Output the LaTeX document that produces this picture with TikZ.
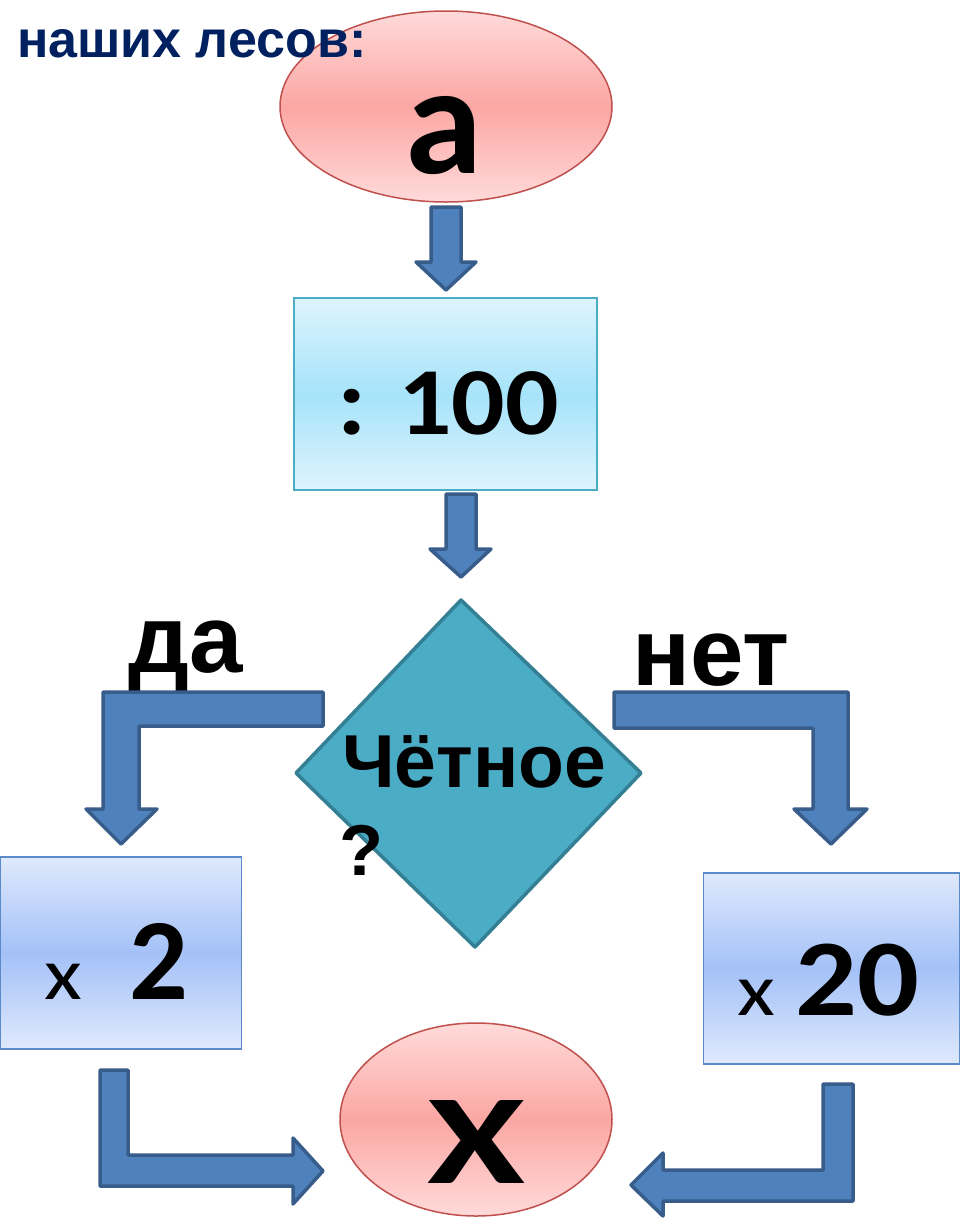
\documentclass[tikz,border=0pt]{standalone}
\usepackage{fontspec}
\setmainfont{Liberation Sans}
\newfontfamily\lsans{Liberation Sans}
\newfontfamily\calib{Carlito}
\usepackage{graphicx}
\usetikzlibrary{shapes.geometric}
\definecolor{navy}{HTML}{002060}
\definecolor{pinkL}{HTML}{FFDADA}
\definecolor{pinkM}{HTML}{FBA7A3}
\definecolor{ellline}{HTML}{C0504D}
\definecolor{cyanL}{HTML}{DEF4FD}
\definecolor{cyanM}{HTML}{A6E3FA}
\definecolor{cyanline}{HTML}{4BACC6}
\definecolor{blueL}{HTML}{DFE9FC}
\definecolor{blueM}{HTML}{A4C1F8}
\definecolor{boxline}{HTML}{5B8AC8}
\definecolor{arrfill}{HTML}{4F81BD}
\definecolor{arrline}{HTML}{385D8A}
\definecolor{diafill}{HTML}{4BACC6}
\definecolor{dialine}{HTML}{357F94}
\begin{document}
\begin{tikzpicture}[x=1pt,y=-1pt,
  blockarrow/.style={fill=arrfill, draw=arrline, line width=3.5pt, line join=round},
  txt/.style={inner sep=0pt, outer sep=0pt, anchor=base},
  pinkell/.style={ellipse, draw=ellline, line width=1.5pt, inner sep=0pt,
    top color=pinkL, bottom color=pinkL, middle color=pinkM},
  cyanbox/.style={rectangle, draw=cyanline, line width=2pt, inner sep=0pt,
    top color=cyanL, bottom color=cyanL, middle color=cyanM},
  bluebox/.style={rectangle, draw=boxline, line width=1.8pt, inner sep=0pt,
    top color=blueL, bottom color=blueL, middle color=blueM},
  diastyle/.style={fill=diafill, draw=dialine, line width=3.5pt, line join=round},
  bigcal/.style={font=\calib\bfseries\fontsize{#1}{#1}\selectfont},
  bigar/.style={font=\lsans\bfseries\fontsize{#1}{#1}\selectfont},
]
\useasboundingbox (0,0) rectangle (960,1219);
\fill[white] (0,0) rectangle (960,1219);

% top ellipse
\node[pinkell, minimum width=332pt, minimum height=191pt] (ea) at (446,106.5) {};
\node[txt, bigcal=156] (eat) at (444,173) {a};
\node[txt, anchor=base west, bigar=52, text=navy] (title) at (17,57) {наших лесов:};

% arrow 1
\draw[blockarrow] (431,207) -- (461,207) -- (461,262) -- (476,262) -- (446,290)
  -- (416,262) -- (431,262) -- cycle;

% box :100
\node[cyanbox, minimum width=303pt, minimum height=192pt] (b100) at (445.5,394) {};
\node[txt, bigcal=96] (b100t) at (448,434) {\scalebox{1.1}[1]{: 100}};

% arrow 2
\draw[blockarrow] (446,494) -- (476,494) -- (476,549) -- (491,549) -- (461,577)
  -- (430,549) -- (446,549) -- cycle;

% diamond
\coordinate (dT) at (461,600);
\coordinate (dR) at (641,773);
\coordinate (dB) at (475,947);
\coordinate (dL) at (296,773);
\draw[diastyle] (dT) -- (dR) -- (dB) -- (dL) -- cycle;
\node[txt, bigar=75] (q1) at (474,787) {Чётное};
\node[txt, bigar=72] (q2) at (361,875) {?};

% yes / no labels
\node[txt, bigar=96] (yes) at (186,672) {да};
\node[txt, bigar=96] (no) at (711,685) {нет};

% bent arrow left
\draw[blockarrow] (323,692) -- (103,692) -- (103,809) -- (86,809) -- (121,844)
  -- (157,809) -- (139,809) -- (139,726) -- (323,726) -- cycle;
% bent arrow right
\draw[blockarrow] (614,692) -- (848,692) -- (848,809) -- (867,809) -- (831,844)
  -- (794,809) -- (813,809) -- (813,728) -- (614,728) -- cycle;

% boxes x2 and x20
\node[bluebox, minimum width=241pt, minimum height=192pt] (b2) at (121,953) {};
\node[txt, anchor=base west] (b2t) at (45,999)
  {{\calib\fontsize{74}{74}\selectfont\scalebox{1.18}[1]{x}}\hspace{47pt}{\calib\bfseries\fontsize{116}{116}\selectfont 2}};
\node[bluebox, minimum width=256pt, minimum height=191pt] (b20) at (831.5,968.5) {};
\node[txt, anchor=base west] (b20t) at (737,1015)
  {{\calib\fontsize{74}{74}\selectfont\scalebox{1.18}[1]{x}}\hspace{21pt}{\calib\bfseries\fontsize{109}{109}\selectfont\scalebox{1.12}[1]{20}}};

% bottom ellipse
\node[pinkell, minimum width=272pt, minimum height=193pt] (ex) at (476,1119.5) {};
\node[txt, bigcal=128] (ext) at (476,1183) {\scalebox{1.39}[1]{X}};

% bottom arrows
\draw[blockarrow] (100,1070) -- (128,1070) -- (128,1155) -- (293,1155) -- (293,1138)
  -- (323,1171) -- (293,1204) -- (293,1186) -- (100,1186) -- cycle;
\draw[blockarrow] (853,1084) -- (823,1084) -- (823,1170) -- (663,1170) -- (663,1153)
  -- (631,1185) -- (663,1216) -- (663,1201) -- (853,1201) -- cycle;
\end{tikzpicture}
\end{document}
